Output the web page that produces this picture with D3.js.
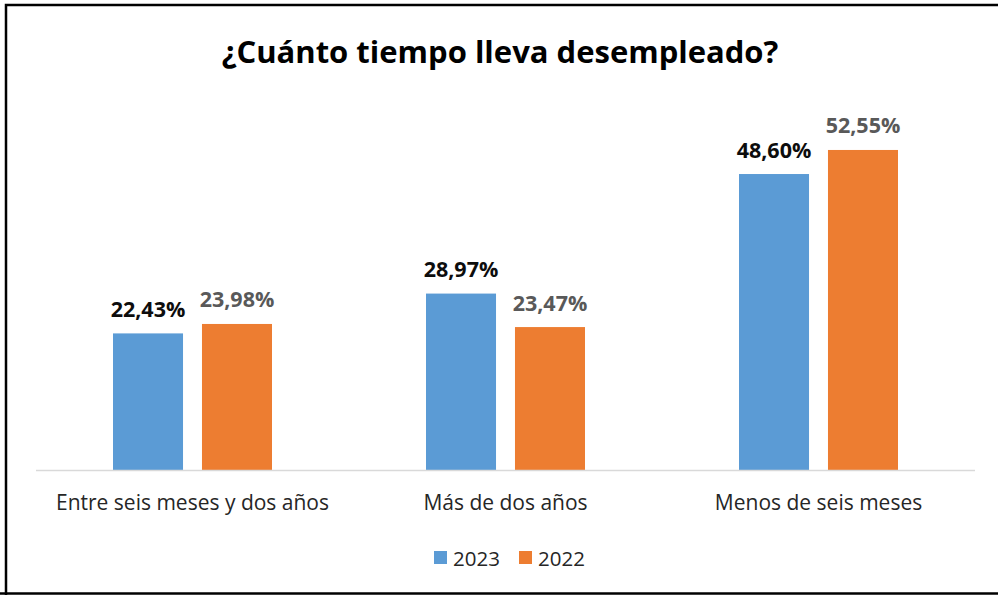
<!DOCTYPE html>
<html>
<head>
<meta charset="utf-8">
<script src="https://cdn.jsdelivr.net/npm/d3@7"></script>
<style>
  body { margin: 0; background: #fff; }
  text { font-family: "Open Sans", "Noto Sans", sans-serif; }
</style>
</head>
<body>
<div id="chart"></div>
<script>
// data
let categories = ['Entre seis meses y dos años', 'Más de dos años', 'Menos de seis meses'];
let seriesNames = ['2023', '2022'];
let values2023 = [22.43, 28.97, 48.60];
let values2022 = [23.98, 23.47, 52.55];
let title = '¿Cuánto tiempo lleva desempleado?';

let colors = { '2023': '#5b9bd5', '2022': '#ed7d31' };
let labelColors = { '2023': '#0d0d0d', '2022': '#595959' };

let config = { svg: {}, plot: {} };
config.svg.width = 998;
config.svg.height = 595;
config.plot.left = 36;
config.plot.right = 975;
config.plot.bottom = 470;
config.plot.top = 104.6;

function translate(x, y) {
  return 'translate(' + x + ',' + y + ')';
}

function fmt(v) {
  return v.toFixed(2).replace('.', ',') + '%';
}

let svg = d3.select('#chart').append('svg')
  .attr('width', config.svg.width)
  .attr('height', config.svg.height);

// frame
svg.append('rect')
  .attr('x', 0).attr('y', 0)
  .attr('width', config.svg.width).attr('height', config.svg.height)
  .attr('fill', '#fff');
svg.append('path')
  .attr('d', 'M6,595 L6,5 L998,5')
  .attr('fill', 'none')
  .attr('stroke', '#000')
  .attr('stroke-width', 2.5);
svg.append('line')
  .attr('x1', 0).attr('x2', 998)
  .attr('y1', 593.5).attr('y2', 593.5)
  .attr('stroke', '#000')
  .attr('stroke-width', 2.5);

svg.append('text')
  .attr('x', 500)
  .attr('y', 63)
  .attr('text-anchor', 'middle')
  .style('font-size', '31px')
  .style('font-weight', 'bold')
  .attr('fill', '#000')
  .text(title);

let data = categories.map(function(c, i) {
  return {
    key: c,
    values: [
      { name: '2023', value: values2023[i] },
      { name: '2022', value: values2022[i] }
    ]
  };
});

let x0 = d3.scaleBand()
  .domain(categories)
  .range([config.plot.left, config.plot.right]);

let x1 = d3.scaleBand()
  .domain(seriesNames)
  .range([77, 236])
  .paddingInner(0.213);

let y = d3.scaleLinear()
  .domain([0, 60])
  .range([config.plot.bottom, config.plot.top]);

let groups = svg.selectAll('.group')
  .data(data)
  .enter().append('g')
  .attr('class', 'group')
  .attr('transform', function(d) { return translate(x0(d.key), 0); });

groups.selectAll('rect')
  .data(function(d) { return d.values; })
  .enter().append('rect')
  .attr('x', function(d) { return x1(d.name); })
  .attr('y', function(d) { return y(d.value); })
  .attr('width', x1.bandwidth())
  .attr('height', function(d) { return y(0) - y(d.value); })
  .attr('fill', function(d) { return colors[d.name]; });

groups.selectAll('.lbl')
  .data(function(d) { return d.values; })
  .enter().append('text')
  .attr('class', 'lbl')
  .attr('x', function(d) { return x1(d.name) + x1.bandwidth() / 2; })
  .attr('y', function(d) { return y(d.value) - 16.5; })
  .attr('text-anchor', 'middle')
  .style('font-size', '21.5px')
  .style('font-weight', 'bold')
  .attr('fill', function(d) { return labelColors[d.name]; })
  .text(function(d) { return fmt(d.value); });

// baseline
svg.append('line')
  .attr('x1', config.plot.left).attr('x2', config.plot.right)
  .attr('y1', y(0) + 0.5).attr('y2', y(0) + 0.5)
  .attr('stroke', '#d9d9d9')
  .attr('stroke-width', 1.5);

// category axis labels
let xAxis = d3.axisBottom(x0).tickSize(0).tickPadding(0);
let axisG = svg.append('g')
  .attr('transform', translate(0, y(0)))
  .call(xAxis);
axisG.select('.domain').remove();
axisG.selectAll('text')
  .attr('y', 40)
  .attr('dy', 0)
  .style('font-size', '21px')
  .style('font-family', '"Open Sans", sans-serif')
  .attr('fill', '#262626');

// legend
let legendItems = [
  { name: '2023', x: 434 },
  { name: '2022', x: 519 }
];
let legend = svg.selectAll('.legend')
  .data(legendItems)
  .enter().append('g')
  .attr('class', 'legend')
  .attr('transform', function(d) { return translate(d.x, 551); });
legend.append('rect')
  .attr('width', 13).attr('height', 13)
  .attr('fill', function(d) { return colors[d.name]; });
legend.append('text')
  .attr('x', 19)
  .attr('y', 14.5)
  .style('font-size', '20.5px')
  .attr('fill', '#262626')
  .text(function(d) { return d.name; });
</script>
</body>
</html>
